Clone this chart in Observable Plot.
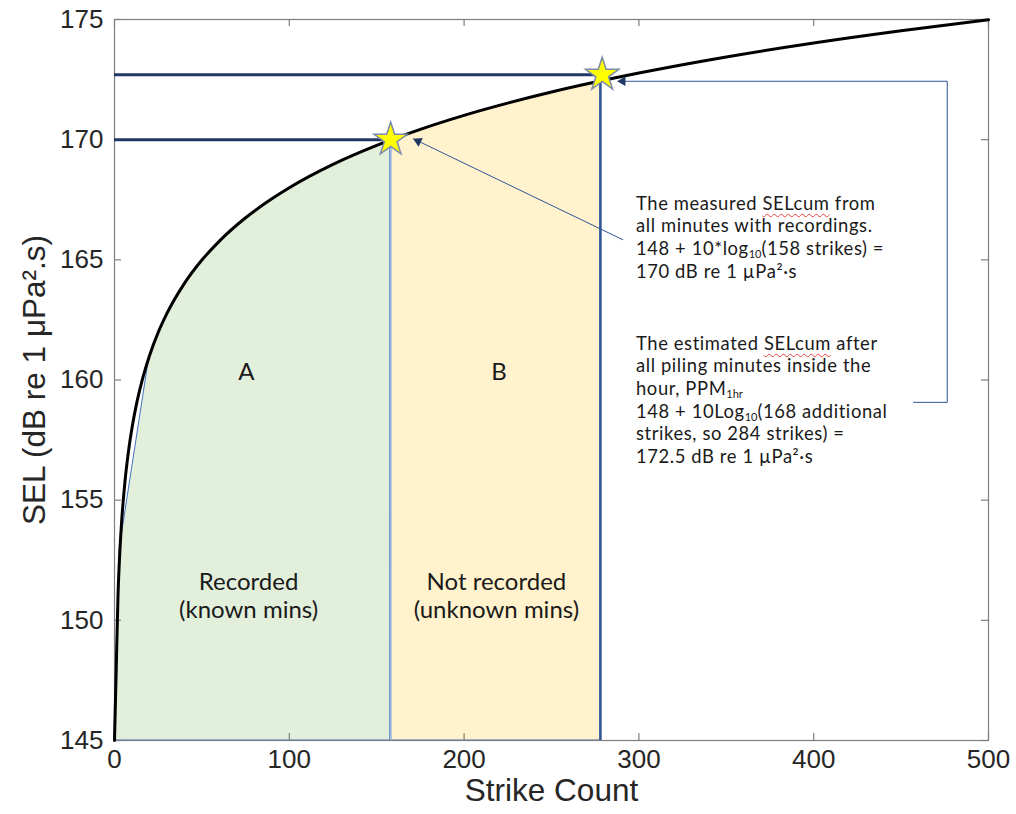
<!DOCTYPE html>
<html>
<head>
<meta charset="utf-8">
<script src="https://cdn.jsdelivr.net/npm/d3@7"></script>
<script src="https://cdn.jsdelivr.net/npm/@observablehq/plot@0.6"></script>
<style>
  body { margin: 0; background: #fff; }
  #wrap { position: relative; width: 1016px; height: 814px; }
  .note { position: absolute; left: 636px; font-family: Lato, "Open Sans", sans-serif; font-size: 18.4px; letter-spacing: 0.6px; line-height: 22.7px; color: #1a1a1a; white-space: nowrap; }
  .note .ln { display: block; height: 22.7px; overflow: visible; }
  .note sub { font-size: 11px; letter-spacing: 0; vertical-align: baseline; position: relative; top: 3px; line-height: 0; }
  .spell { text-decoration: underline wavy #e8413c; text-decoration-thickness: 1px; text-underline-offset: 3px; }
</style>
</head>
<body>
<div id="wrap"></div>
<script>
// Cumulative SEL curve: SEL = 148 + 10·log10(strikes)
const curveStrikes = [0, 1, 2, 3, 4, 6, 8, 10, 13, 16, 20, 25, 30, 40, 50, 60, 75, 90, 100, 125, 150, 175, 200, 250, 300, 350, 400, 450, 500];
const curveSEL     = [145, 148, 151.01, 152.77, 154.02, 155.78, 157.03, 158, 159.14, 160.04, 161.01, 161.98, 162.77, 164.02, 164.99, 165.78, 166.75, 167.54, 168, 168.97, 169.76, 170.43, 171.01, 171.98, 172.77, 173.44, 174.02, 174.53, 174.99];

// Region A: recorded minutes (0 – 158 strikes)
const recordedStrikes = [0, 1, 3, 20, 30, 40, 50, 75, 100, 125, 158];
const recordedSEL     = [145, 148, 153, 161, 162.75, 164, 164.98, 166.74, 167.98, 168.95, 169.98];

// Region B: unrecorded minutes (158 – 278 strikes)
const unrecordedStrikes = [158, 175, 200, 250, 278];
const unrecordedSEL     = [170, 170.43, 171.01, 171.98, 172.44];

// Marked points: measured and estimated SELcum
const markerStrikes = [158, 279];
const markerSEL     = [170, 172.7];

const xTicks = [0, 100, 200, 300, 400, 500];
const yTicks = [145, 150, 155, 160, 165, 170, 175];

const curve = curveStrikes.map((x, i) => ({x, y: curveSEL[i]}));
const recorded = recordedStrikes.map((x, i) => ({x, y: recordedSEL[i]}));
const unrecorded = unrecordedStrikes.map((x, i) => ({x, y: unrecordedSEL[i]}));
const markers = markerStrikes.map((x, i) => ({x, y: markerSEL[i]}));

const axisGrey = "#7f7f7f";
const inkBlue = "#2f5597";
const navy = "#1f3864";
const labelFont = "Lato, sans-serif";

const chart = Plot.plot({
  width: 1016,
  height: 814,
  marginLeft: 114,
  marginRight: 28,
  marginTop: 19,
  marginBottom: 74,
  x: {domain: [0, 500], axis: null},
  y: {domain: [145, 175], axis: null},
  style: {fontFamily: "'Liberation Sans', Arial, sans-serif", background: "white", color: "#262626"},
  marks: [
    // shaded regions
    Plot.areaY(recorded, {x: "x", y1: 145, y2: "y", fill: "#e2efda", stroke: "#4472c4", strokeWidth: 1}),
    Plot.areaY(unrecorded, {x: "x", y1: 145, y2: "y", fill: "#fff2cc", stroke: "#4472c4", strokeWidth: 1}),
    Plot.ruleX([158], {y1: 145, y2: 170, stroke: "#9db4de", strokeWidth: 2}),
    Plot.ruleX([278], {y1: 145, y2: 172.44, stroke: inkBlue, strokeWidth: 2.5}),

    // frame with inward ticks on all four sides
    Plot.frame({stroke: axisGrey, strokeWidth: 1.2}),
    Plot.ruleX(xTicks, {x: d => d, insetTop: 714, stroke: axisGrey, strokeWidth: 1.2}),
    Plot.ruleX(xTicks, {x: d => d, insetBottom: 714, stroke: axisGrey, strokeWidth: 1.2}),
    Plot.ruleY(yTicks, {y: d => d, insetRight: 867, stroke: axisGrey, strokeWidth: 1.2}),
    Plot.ruleY(yTicks, {y: d => d, insetLeft: 867, stroke: axisGrey, strokeWidth: 1.2}),

    // reference levels from the y axis to each marked point
    Plot.ruleY(markers, {y: "y", x1: 0, x2: "x", stroke: navy, strokeWidth: 3}),

    // SEL curve
    Plot.line(curve, {x: "x", y: "y", stroke: "black", strokeWidth: 3, curve: "monotone-x"}),

    // callout connectors
    Plot.link([{x1: 291, y1: 165.83, x2: 170.9, y2: 170.04}], {x1: "x1", y1: "y1", x2: "x2", y2: "y2", stroke: inkBlue, strokeWidth: 1}),
    Plot.line([{x: 457.1, y: 159.07}, {x: 476.4, y: 159.07}, {x: 476.4, y: 172.43}, {x: 290, y: 172.43}], {x: "x", y: "y", stroke: inkBlue, strokeWidth: 1}),
    Plot.dot([{x: 170.9, y: 170.04}], {x: "x", y: "y", symbol: "triangle", r: 3.6, rotate: -64, dx: 4.9, dy: 2.4, fill: navy, stroke: "none"}),
    Plot.dot([{x: 287.6, y: 172.43}], {x: "x", y: "y", symbol: "triangle", r: 3.6, rotate: -90, dx: 5.4, fill: navy, stroke: "none"}),

    // stars
    Plot.dot(markers, {x: "x", y: "y", symbol: "star", r: 10.5, fill: "#ffff00", stroke: "#7a8aa8", strokeWidth: 1.5}),

    // region labels
    Plot.text(["A"], {x: 75.5, y: 160.3, fontFamily: labelFont, fontSize: 24, fill: "#1a1a1a"}),
    Plot.text(["B"], {x: 220, y: 160.3, fontFamily: labelFont, fontSize: 24, fill: "#1a1a1a"}),
    Plot.text(["Recorded\n(known mins)"], {x: 76.7, y: 151.05, fontFamily: labelFont, fontSize: 24, lineHeight: 1.14, fill: "#1a1a1a"}),
    Plot.text(["Not recorded\n(unknown mins)"], {x: 218.5, y: 151.05, fontFamily: labelFont, fontSize: 24, lineHeight: 1.14, fill: "#1a1a1a"}),

    // tick labels
    Plot.text(xTicks, {x: d => d, frameAnchor: "bottom", dy: 27, fontSize: 26, fill: "#262626"}),
    Plot.text(yTicks, {y: d => d, frameAnchor: "left", dx: -11, textAnchor: "end", fontSize: 26, fill: "#262626"}),

    // axis titles
    Plot.text(["Strike Count"], {frameAnchor: "bottom", dy: 60, fontSize: 31.5, fill: "#262626"}),
    Plot.text(["SEL (dB re 1 μPa².s)"], {frameAnchor: "left", dx: -80, rotate: -90, textAnchor: "middle", fontSize: 31.5, fill: "#262626"})
  ]
});

const wrap = document.getElementById("wrap");
wrap.appendChild(chart);

// callout text blocks, one line per row
function note(top, lines) {
  const div = document.createElement("div");
  div.className = "note";
  div.style.top = top + "px";
  div.innerHTML = lines.map(l => `<span class="ln">${l}</span>`).join("");
  wrap.appendChild(div);
}

note(191.6, [
  'The measured <span class="spell">SELcum</span> from',
  'all minutes with recordings.',
  '148 + 10*log<sub>10</sub>(158 strikes) =',
  '170 dB re 1 µPa²·s'
]);

note(331.7, [
  'The estimated <span class="spell">SELcum</span> after',
  'all piling minutes inside the',
  'hour, PPM<sub>1hr</sub>',
  '148 + 10Log<sub>10</sub>(168 additional',
  'strikes, so 284 strikes) =',
  '172.5 dB re 1 µPa²·s'
]);
</script>
</body>
</html>
